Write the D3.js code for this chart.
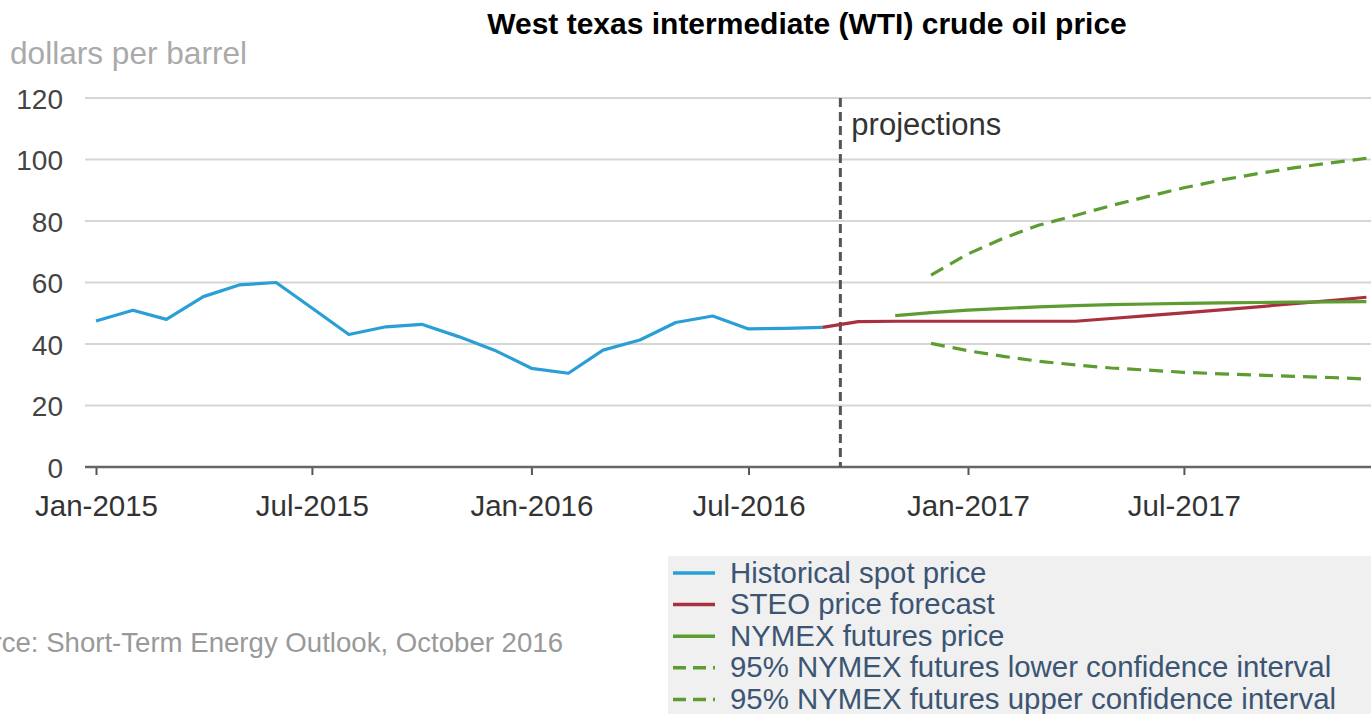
<!DOCTYPE html>
<html><head><meta charset="utf-8">
<script src="https://cdn.jsdelivr.net/npm/d3@7"></script>
<style>
body{margin:0;background:#fff;}
svg{display:block;font-family:"Liberation Sans",Arial,Helvetica,sans-serif;}
</style></head>
<body>
<svg id="c" width="1371" height="714"></svg>
<script>
// ---- data ----
const histMonths = ["2015-01","2015-02","2015-03","2015-04","2015-05","2015-06","2015-07","2015-08","2015-09","2015-10","2015-11","2015-12","2016-01","2016-02","2016-03","2016-04","2016-05","2016-06","2016-07","2016-08","2016-09"];
const histValues = [47.5,51,48,55.4,59.2,60,51.7,43.1,45.6,46.4,42.4,38,32.1,30.5,38,41.3,47,49.1,44.9,45.1,45.4];

const steoMonths = ["2016-09","2016-10","2016-11","2016-12","2017-01","2017-02","2017-03","2017-04","2017-05","2017-06","2017-07","2017-08","2017-09","2017-10","2017-11","2017-12"];
const steoValues = [45.4,47.3,47.4,47.4,47.4,47.4,47.4,47.4,48.3,49.2,50.1,51.1,52.1,53.1,54.1,55.2];

const nymexMonths = ["2016-11","2016-12","2017-01","2017-02","2017-03","2017-04","2017-05","2017-06","2017-07","2017-08","2017-09","2017-10","2017-11","2017-12"];
const nymexValues = [49.2,50.2,51,51.6,52.1,52.5,52.8,53,53.2,53.4,53.5,53.6,53.7,53.8];

const ciMonths = ["2016-12","2017-01","2017-02","2017-03","2017-04","2017-05","2017-06","2017-07","2017-08","2017-09","2017-10","2017-11","2017-12"];
const lowerValues = [40.2,37.8,35.9,34.4,33.2,32.2,31.5,30.8,30.3,29.9,29.5,29.1,28.6];
const upperValues = [62.4,69.3,74.6,78.6,81.8,85,88,90.8,93.3,95.4,97.3,98.9,100.4];

const yTicks = [0,20,40,60,80,100,120];
const xTickDates = ["2015-01","2015-07","2016-01","2016-07","2017-01","2017-07"];
const xTickLabels = ["Jan-2015","Jul-2015","Jan-2016","Jul-2016","Jan-2017","Jul-2017"];
const projectionDate = "2016-09-16";

const legendLabels = ["Historical spot price","STEO price forecast","NYMEX futures price","95% NYMEX futures lower confidence interval","95% NYMEX futures upper confidence interval"];

// ---- setup ----
const parseM = d3.timeParse("%Y-%m");
const parseD = d3.timeParse("%Y-%m-%d");
const svg = d3.select("#c");
const W = 1371;

const xBase = d3.scaleTime().domain([parseM("2015-01"), parseM("2017-01")]).range([96, 968]);
const x = d3.scaleTime().domain([xBase.invert(85), xBase.invert(W)]).range([85, W]);
const y = d3.scaleLinear().domain([0,120]).range([467, 98]);

const colors = {blue:"#2a9fd6", red:"#a8303f", green:"#5c9c30"};

// title
svg.append("text").attr("x", 807).attr("y", 34).attr("text-anchor","middle")
  .attr("font-size", 30).attr("font-weight","bold").attr("fill","#000")
  .text("West texas intermediate (WTI) crude oil price");
svg.append("text").attr("x", 10).attr("y", 64)
  .attr("font-size", 31.6).attr("fill","#aaaaaa").text("dollars per barrel");

// grid
svg.append("g").selectAll("line").data(yTicks.filter(d=>d>0)).join("line")
  .attr("x1", 85).attr("x2", W).attr("y1", d=>y(d)).attr("y2", d=>y(d))
  .attr("stroke","#d6d6d6").attr("stroke-width",2);

// y axis labels
const yAxis = d3.axisLeft(y).tickValues(yTicks).tickSize(0).tickPadding(0);
const gy = svg.append("g").attr("transform","translate(63,0)").call(yAxis);
gy.select(".domain").remove();
gy.selectAll("text").attr("font-size",28).attr("fill","#444").attr("font-family","Liberation Sans, Arial, sans-serif").attr("dy","0.36em");

// x axis
const xAxis = d3.axisBottom(x).tickValues(xTickDates.map(parseM))
  .tickFormat((d,i)=>xTickLabels[i]).tickSizeInner(8).tickSizeOuter(0).tickPadding(20);
const gx = svg.append("g").attr("transform",`translate(0,${y(0)})`).call(xAxis);
gx.select(".domain").remove();
gx.selectAll(".tick line").attr("stroke","#555").attr("stroke-width",2);
gx.selectAll("text").attr("font-size",29.5).attr("fill","#333").attr("font-family","Liberation Sans, Arial, sans-serif");
svg.append("line").attr("x1",85).attr("x2",W).attr("y1",y(0)).attr("y2",y(0))
  .attr("stroke","#666").attr("stroke-width",2.5);

// projections line
const px = x(parseD(projectionDate));
svg.append("line").attr("x1",px).attr("x2",px).attr("y1",y(120)).attr("y2",y(0))
  .attr("stroke","#555").attr("stroke-width",3).attr("stroke-dasharray","9,5");
svg.append("text").attr("x",px+11).attr("y",135).attr("font-size",31).attr("fill","#333").text("projections");

// lines
const line = d3.line().x(d=>x(d[0])).y(d=>y(d[1]));
function series(months, vals){ return months.map((m,i)=>[parseM(m), vals[i]]); }
function draw(data, color, dash){
  svg.append("path").datum(data).attr("d", line).attr("fill","none")
    .attr("stroke", color).attr("stroke-width", 3.2).attr("stroke-linejoin","round")
    .attr("stroke-dasharray", dash || null);
}
draw(series(histMonths, histValues), colors.blue);
draw(series(steoMonths, steoValues), colors.red);
draw(series(nymexMonths, nymexValues), colors.green);
draw(series(ciMonths, lowerValues), colors.green, "14,8");
draw(series(ciMonths, upperValues), colors.green, "14,8");

// source (cut at the left edge, as in the reference)
svg.append("text").attr("x", 563).attr("y", 652).attr("text-anchor","end")
  .attr("font-size", 27.6).attr("fill","#999").text("Source: Short-Term Energy Outlook, October 2016");

// legend
const lg = svg.append("g");
lg.append("rect").attr("x",668).attr("y",556).attr("width",W-668).attr("height",714-556).attr("fill","#f0f0f0");
const legColors = [colors.blue, colors.red, colors.green, colors.green, colors.green];
const legDash = [null,null,null,"13,7","13,7"];
const rows = lg.selectAll("g.row").data(legendLabels).join("g").attr("class","row")
  .attr("transform",(d,i)=>`translate(0,${573 + i*31.6})`);
rows.append("line").attr("x1",673).attr("x2",715).attr("y1",0).attr("y2",0)
  .attr("stroke",(d,i)=>legColors[i]).attr("stroke-width",3.5)
  .attr("stroke-dasharray",(d,i)=>legDash[i]);
rows.append("text").attr("x",730).attr("y",9.5).attr("font-size",29.4).attr("fill","#3b5573").text(d=>d);
</script>
</body></html>
